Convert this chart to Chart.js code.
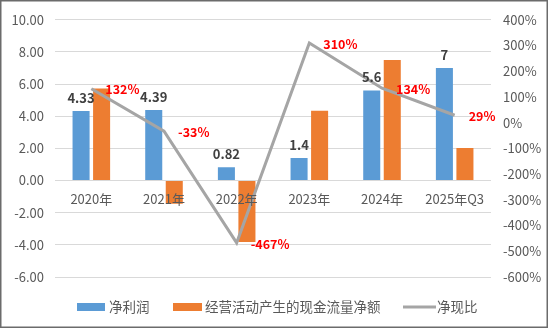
<!DOCTYPE html>
<html>
<head>
<meta charset="utf-8">
<script src="https://cdn.jsdelivr.net/npm/chart.js@4/dist/chart.umd.min.js"></script>
<style>
html,body{margin:0;padding:0;background:#fff;}
#wrap{width:550px;height:330px;position:relative;}
</style>
</head>
<body>
<div id="wrap"><canvas id="c" width="550" height="330"></canvas></div>
<script>
const categories = ['2020年', '2021年', '2022年', '2023年', '2024年', '2025年Q3'];
const netProfit = [4.33, 4.39, 0.82, 1.4, 5.6, 7];
const netProfitLabels = ['4.33', '4.39', '0.82', '1.4', '5.6', '7'];
const operatingCashFlow = [5.72, -1.45, -3.83, 4.34, 7.50, 2.03];
const cashRatio = [132, -33, -467, 310, 134, 29];
const seriesNames = ['净利润', '经营活动产生的现金流量净额', '净现比'];

const FONT = '"Microsoft YaHei", "Noto Sans CJK SC", sans-serif';
const BLUE = '#5B9BD5', ORANGE = '#ED7D31', GRAY = '#A5A5A5', TXT = '#595959';

const labelPlugin = {
  id: 'labels',
  afterDatasetsDraw(chart) {
    const ctx = chart.ctx;
    ctx.save();
    const m0 = chart.getDatasetMeta(0);
    ctx.font = 'bold 13px ' + FONT;
    ctx.fillStyle = '#404040';
    ctx.textAlign = 'center';
    ctx.textBaseline = 'middle';
    m0.data.forEach((el, i) => {
      ctx.fillText(netProfitLabels[i], el.x, el.y - 13);
    });
    const m2 = chart.getDatasetMeta(2);
    ctx.font = 'bold 12.5px ' + FONT;
    ctx.fillStyle = '#FF0000';
    ctx.textAlign = 'left';
    m2.data.forEach((el, i) => {
      ctx.fillText(cashRatio[i] + '%', el.x + 14, el.y + 1);
    });
    ctx.restore();
  },
  afterDraw(chart) {
    const ctx = chart.ctx;
    ctx.save();
    ctx.font = '13.5px ' + FONT;
    ctx.textBaseline = 'middle';
    ctx.textAlign = 'left';
    const ly = 307;
    ctx.fillStyle = BLUE;
    ctx.fillRect(77, 303, 28, 8);
    ctx.fillStyle = TXT;
    ctx.fillText(seriesNames[0], 109, ly);
    ctx.fillStyle = ORANGE;
    ctx.fillRect(173, 303, 29, 8);
    ctx.fillStyle = TXT;
    ctx.fillText(seriesNames[1], 205, ly);
    ctx.strokeStyle = GRAY;
    ctx.lineWidth = 3;
    ctx.beginPath();
    ctx.moveTo(403, ly);
    ctx.lineTo(436, ly);
    ctx.stroke();
    ctx.fillText(seriesNames[2], 437, ly);
    ctx.strokeStyle = '#6b6b6b';
    ctx.lineWidth = 1.5;
    ctx.strokeRect(0.75, 0.75, 546.5, 326.5);
    ctx.restore();
  }
};

new Chart(document.getElementById('c'), {
  type: 'bar',
  data: {
    labels: categories,
    datasets: [
      { label: seriesNames[0], data: netProfit, backgroundColor: BLUE, yAxisID: 'y', order: 1,
        categoryPercentage: 0.565, barPercentage: 0.83 },
      { label: seriesNames[1], data: operatingCashFlow, backgroundColor: ORANGE, yAxisID: 'y', order: 1,
        categoryPercentage: 0.565, barPercentage: 0.83 },
      { label: seriesNames[2], type: 'line', data: cashRatio, borderColor: GRAY, borderWidth: 3,
        pointRadius: 0, tension: 0, fill: false, yAxisID: 'y1', order: 0 }
    ]
  },
  options: {
    responsive: false,
    animation: false,
    devicePixelRatio: 1,
    layout: { padding: { top: 17, bottom: 53, left: 0, right: 0 } },
    plugins: { legend: { display: false }, tooltip: { enabled: false } },
    scales: {
      x: {
        position: { y: 0 },
        offset: true,
        grid: { display: false, drawTicks: false },
        border: { display: false },
        ticks: { z: 1, color: TXT, font: { family: FONT, size: 13 }, padding: 11, maxRotation: 0 }
      },
      y: {
        position: 'left',
        min: -6, max: 10,
        afterFit(s) { s.width = 55; },
        grid: { color: '#D9D9D9', lineWidth: 1, drawTicks: false },
        border: { display: false },
        ticks: { stepSize: 2, color: TXT, font: { family: FONT, size: 13 }, padding: 11,
          callback: v => v.toFixed(2) }
      },
      y1: {
        position: 'right',
        min: -600, max: 400,
        afterFit(s) { s.width = 59; },
        grid: { display: false, drawTicks: false },
        border: { display: false },
        ticks: { stepSize: 100, color: TXT, font: { family: FONT, size: 13 }, padding: 12,
          callback: v => v + '%' }
      }
    }
  },
  plugins: [labelPlugin]
});
</script>
</body>
</html>
